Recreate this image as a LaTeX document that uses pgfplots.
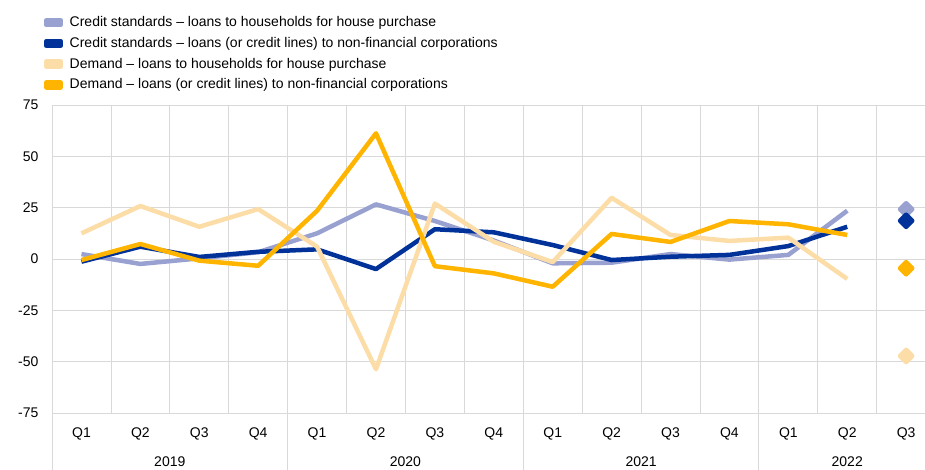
\documentclass[border=0pt]{standalone}
\usepackage{fontspec}
\setmainfont{Liberation Sans}
\usepackage{pgfplots}
\pgfplotsset{compat=1.18}
\definecolor{cshh}{HTML}{98A1D0}
\definecolor{csnfc}{HTML}{003299}
\definecolor{dhh}{HTML}{FDDDA7}
\definecolor{dnfc}{HTML}{FFB400}
\definecolor{gridgray}{HTML}{D9D9D9}

\begin{document}
\begin{tikzpicture}
\begin{axis}[name=ax, scale only axis, width=873bp, height=308bp,
  xmin=-0.5, xmax=14.32, ymin=-75, ymax=75,
  xtick={0,...,14},
  xticklabels={Q1,Q2,Q3,Q4,Q1,Q2,Q3,Q4,Q1,Q2,Q3,Q4,Q1,Q2,Q3},
  minor xtick={-0.5,0.5,...,13.5}, xminorgrids,
  ytick={-75,-50,...,75}, ymajorgrids,
  grid style={gridgray, line width=0.8bp},
  minor grid style={gridgray, line width=0.8bp},
  major tick length=0, minor tick length=0,
  axis x line=bottom, axis y line=left,
  axis line style={gridgray, line width=0.8bp, -},
  tick label style={font=\fontsize{14bp}{16bp}\selectfont, black},
  /pgf/number format/assume math mode=true,
  xticklabel style={yshift=-11bp},
  yticklabel style={xshift=-10bp},
  clip=false,
  legend cell align=left,
  legend image code/.code={\fill[#1] (0bp,-2.5bp) rectangle (14bp,2.5bp);},
  legend style={at={(axis description cs:0,1)}, anchor=south west,
    xshift=-8bp, yshift=13bp, draw=none, fill=none, inner sep=0pt,
    font=\fontsize{14bp}{16bp}\selectfont, row sep=6.7bp,
    nodes={inner sep=0pt, text height=11bp, text depth=3bp},
    /tikz/every odd column/.append style={column sep=7bp}},
  every axis plot/.append style={line width=4.5bp, line join=round},
]
\addplot[color=cshh] coordinates {(0,2.4) (1,-2.4) (2,0.3) (3,3.3) (4,12.5) (5,26.6) (6,18.5) (7,9) (8,-2.1) (9,-1.8) (10,2.4) (11,-0.3) (12,2) (13,23.5)};
\addlegendentry{Credit standards -- loans to households for house purchase}
\addplot[color=csnfc] coordinates {(0,-1.3) (1,6) (2,1) (3,3.5) (4,4.7) (5,-4.9) (6,14.5) (7,13) (8,6.8) (9,-0.5) (10,1.1) (11,2) (12,6.3) (13,15.7)};
\addlegendentry{Credit standards -- loans (or credit lines) to non-financial corporations}
\addplot[color=dhh] coordinates {(0,12.5) (1,25.8) (2,15.7) (3,24.3) (4,6) (5,-53.7) (6,27) (7,8.4) (8,-1.5) (9,29.8) (10,11.7) (11,8.8) (12,10.4) (13,-9.7)};
\addlegendentry{Demand -- loans to households for house purchase}
\addplot[color=dnfc] coordinates {(0,-0.5) (1,7.3) (2,-0.8) (3,-3.3) (4,23.5) (5,61.2) (6,-3.5) (7,-7) (8,-13.5) (9,12.2) (10,8.3) (11,18.5) (12,16.9) (13,11.7)};
\addlegendentry{Demand -- loans (or credit lines) to non-financial corporations}
% Q3 2022 expectations
\addplot[forget plot, only marks, color=cshh, mark=square*, mark size=4.3bp, mark options={rotate=45}] coordinates {(14,24.2)};
\addplot[forget plot, only marks, color=csnfc, mark=square*, mark size=4.3bp, mark options={rotate=45}] coordinates {(14,18.6)};
\addplot[forget plot, only marks, color=dhh, mark=square*, mark size=4.3bp, mark options={rotate=45}] coordinates {(14,-47.2)};
\addplot[forget plot, only marks, color=dnfc, mark=square*, mark size=4.3bp, mark options={rotate=45}] coordinates {(14,-4.5)};
% year separators and labels
\draw[gridgray, line width=0.8bp] (axis cs:-0.5,-75) -- ([yshift=-57bp]axis cs:-0.5,-75);
\draw[gridgray, line width=0.8bp] (axis cs:3.5,-75) -- ([yshift=-57bp]axis cs:3.5,-75);
\draw[gridgray, line width=0.8bp] (axis cs:7.5,-75) -- ([yshift=-57bp]axis cs:7.5,-75);
\draw[gridgray, line width=0.8bp] (axis cs:11.5,-75) -- ([yshift=-57bp]axis cs:11.5,-75);
\node[font=\fontsize{14bp}{16bp}\selectfont, yshift=-49bp] at (axis cs:1.5,-75) {2019};
\node[font=\fontsize{14bp}{16bp}\selectfont, yshift=-49bp] at (axis cs:5.5,-75) {2020};
\node[font=\fontsize{14bp}{16bp}\selectfont, yshift=-49bp] at (axis cs:9.5,-75) {2021};
\node[font=\fontsize{14bp}{16bp}\selectfont, yshift=-49bp] at (axis cs:13,-75) {2022};
\end{axis}
\pgfresetboundingbox
\path[use as bounding box] ([shift={(-52bp,-57bp)}]ax.south west) rectangle ([shift={(0bp,105bp)}]ax.north east);
\end{tikzpicture}
\end{document}
